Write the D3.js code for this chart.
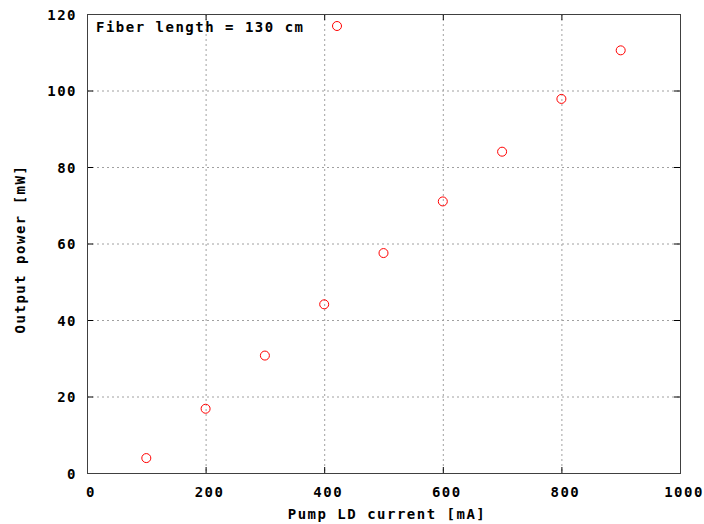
<!DOCTYPE html>
<html>
<head>
<meta charset="utf-8">
<script src="https://cdn.jsdelivr.net/npm/d3@7"></script>
<style>
  body { margin: 0; background: #fff; }
  text { font-family: "DejaVu Sans Mono", monospace; font-size: 14px; font-weight: bold; letter-spacing: 1.5px; fill: #000; }
</style>
</head>
<body>
<div id="chart"></div>
<script>
// data
const current = [100, 200, 300, 400, 500, 600, 700, 800, 900];
const power = [3.9, 16.8, 30.7, 44.1, 57.5, 71, 84, 97.8, 110.5];
const xTicks = [0, 200, 400, 600, 800, 1000];
const yTicks = [0, 20, 40, 60, 80, 100, 120];
const legendLabel = "Fiber length = 130 cm";

const W = 704, H = 524;
const plotLeft = 87, plotRight = 680, plotTop = 14, plotBottom = 473;

const svg = d3.select("#chart").append("svg")
    .attr("width", W)
    .attr("height", H);

const x = d3.scaleLinear().domain([0, 1000]).range([plotLeft, plotRight]);
const y = d3.scaleLinear().domain([0, 120]).range([plotBottom, plotTop]);

// grid
const grid = svg.append("g")
    .attr("stroke", "#a0a0a0")
    .attr("stroke-width", 1)
    .attr("stroke-dasharray", "2,3");
grid.selectAll("line.gx")
    .data(xTicks.slice(1, -1))
    .join("line")
    .attr("class", "gx")
    .attr("x1", d => x(d) + 0.5).attr("x2", d => x(d) + 0.5)
    .attr("y1", plotTop).attr("y2", plotBottom);
grid.selectAll("line.gy")
    .data(yTicks.slice(1, -1))
    .join("line")
    .attr("class", "gy")
    .attr("x1", plotLeft).attr("x2", plotRight)
    .attr("y1", d => y(d) + 0.5).attr("y2", d => y(d) + 0.5);

// ticks (inside, mirrored)
const ticks = svg.append("g").attr("stroke", "#000").attr("stroke-width", 1);
xTicks.forEach(d => {
    ticks.append("line").attr("x1", x(d) + 0.5).attr("x2", x(d) + 0.5).attr("y1", plotBottom).attr("y2", plotBottom - 6);
    ticks.append("line").attr("x1", x(d) + 0.5).attr("x2", x(d) + 0.5).attr("y1", plotTop).attr("y2", plotTop + 6);
});
yTicks.forEach(d => {
    ticks.append("line").attr("x1", plotLeft).attr("x2", plotLeft + 6).attr("y1", y(d) + 0.5).attr("y2", y(d) + 0.5);
    ticks.append("line").attr("x1", plotRight).attr("x2", plotRight - 6).attr("y1", y(d) + 0.5).attr("y2", y(d) + 0.5);
});

// frame
svg.append("rect")
    .attr("x", plotLeft + 0.5).attr("y", plotTop + 0.5)
    .attr("width", plotRight - plotLeft).attr("height", plotBottom - plotTop)
    .attr("fill", "none")
    .attr("stroke", "#404040")
    .attr("stroke-width", 1);

// tick labels
svg.append("g").selectAll("text")
    .data(xTicks)
    .join("text")
    .attr("x", d => x(d) + 4)
    .attr("y", 497)
    .attr("text-anchor", "middle")
    .text(d => d);
svg.append("g").selectAll("text")
    .data(yTicks)
    .join("text")
    .attr("x", 77)
    .attr("y", d => y(d) + 5.5)
    .attr("text-anchor", "end")
    .text(d => d);

// axis titles
svg.append("text")
    .attr("x", 387).attr("y", 519)
    .attr("text-anchor", "middle")
    .text("Pump LD current [mA]");
svg.append("text")
    .attr("transform", "translate(25,249) rotate(-90)")
    .attr("text-anchor", "middle")
    .text("Output power [mW]");

// points
svg.append("g")
    .attr("fill", "none")
    .attr("stroke", "#ff0000")
    .attr("stroke-width", 1)
    .selectAll("circle")
    .data(current.map((c, i) => [c, power[i]]))
    .join("circle")
    .attr("cx", d => x(d[0]))
    .attr("cy", d => y(d[1]))
    .attr("r", 4.5);

// legend
svg.append("text")
    .attr("x", 96).attr("y", 32)
    .text(legendLabel);
svg.append("circle")
    .attr("cx", 337).attr("cy", 26)
    .attr("r", 4.5)
    .attr("fill", "none")
    .attr("stroke", "#ff0000");
</script>
</body>
</html>
